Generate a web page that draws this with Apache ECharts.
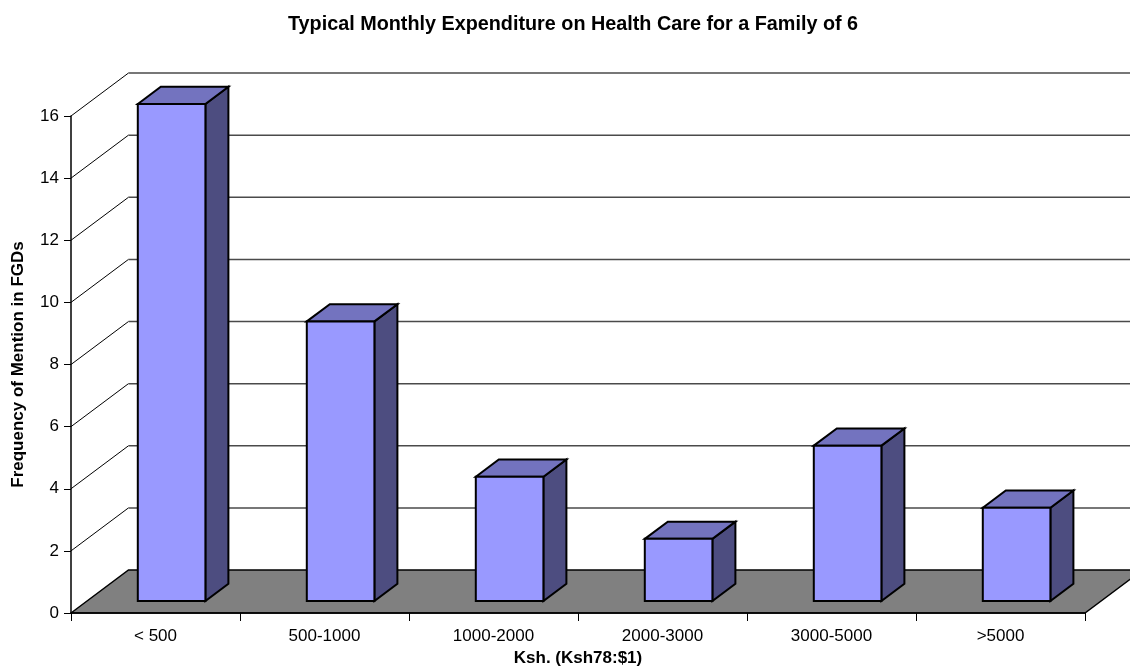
<!DOCTYPE html>
<html>
<head>
<meta charset="utf-8">
<title>Typical Monthly Expenditure on Health Care for a Family of 6</title>
<script src="https://cdn.jsdelivr.net/npm/echarts@6/dist/echarts.min.js"></script>
<style>
  html, body { margin: 0; padding: 0; background: #ffffff; }
  #chart { width: 1130px; height: 670px; }
</style>
</head>
<body>
<div id="chart"></div>
<script>
// Spending bands (Ksh per month) and how often each was mentioned in focus groups
const categories = ['< 500', '500-1000', '1000-2000', '2000-3000', '3000-5000', '>5000'];
const mentions = [16, 9, 4, 2, 5, 3];
const yTicks = [0, 2, 4, 6, 8, 10, 12, 14, 16];

const FONT = '"Liberation Sans", Arial, Helvetica, sans-serif';

// Oblique projection of the depth axis: full depth of the plot box in pixels
const DEPTH_X = 57.5;
const DEPTH_Y = -43;
// Bars sit partway into the depth, and take up a slice of it
const BAR_FRONT = 0.28;
const BAR_DEPTH = 0.4;
const BAR_WIDTH = 0.4; // fraction of a category band

const chart = echarts.init(document.getElementById('chart'), null, { renderer: 'canvas' });

// Side-wall diagonals, back-wall gridlines and the grey floor
function renderWalls(params, api) {
  const v = api.value(1);
  const cs = params.coordSys;
  const x0 = cs.x;
  const x1 = cs.x + cs.width;
  const y = api.coord([0, v])[1];
  const children = [];
  if (v === 0) {
    children.push({
      type: 'polygon',
      shape: { points: [[x0, y], [x0 + DEPTH_X, y + DEPTH_Y], [x1 + DEPTH_X, y + DEPTH_Y], [x1, y]] },
      style: { fill: '#808080', stroke: '#000', lineWidth: 1.5 }
    });
  } else {
    children.push({
      type: 'line',
      shape: { x1: x0, y1: y, x2: x0 + DEPTH_X, y2: y + DEPTH_Y },
      style: { stroke: '#000', lineWidth: 1 }
    });
    children.push({
      type: 'line',
      shape: { x1: x0 + DEPTH_X, y1: y + DEPTH_Y, x2: x1 + DEPTH_X, y2: y + DEPTH_Y },
      style: { stroke: '#4a4a4a', lineWidth: 1.5 }
    });
  }
  return { type: 'group', children: children };
}

// Extruded 3D column: front, top and right-hand side faces
function renderBar(params, api) {
  const i = api.value(0);
  const v = api.value(1);
  const top = api.coord([i, v]);
  const base = api.coord([i, 0]);
  const bw = api.size([1, 0])[0] * BAR_WIDTH;
  const fx = BAR_FRONT * DEPTH_X, fy = BAR_FRONT * DEPTH_Y;
  const dx = BAR_DEPTH * DEPTH_X, dy = BAR_DEPTH * DEPTH_Y;
  const l = top[0] - bw / 2 + fx;
  const r = top[0] + bw / 2 + fx;
  const t = top[1] + fy;
  const b = base[1] + fy;
  const stroke = { stroke: '#000', lineWidth: 2, lineJoin: 'miter' };
  return {
    type: 'group',
    children: [
      {
        type: 'polygon',
        shape: { points: [[r, t], [r + dx, t + dy], [r + dx, b + dy], [r, b]] },
        style: Object.assign({ fill: '#4d4d80' }, stroke)
      },
      {
        type: 'polygon',
        shape: { points: [[l, t], [l + dx, t + dy], [r + dx, t + dy], [r, t]] },
        style: Object.assign({ fill: '#7373bf' }, stroke)
      },
      {
        type: 'rect',
        shape: { x: l, y: t, width: r - l, height: b - t },
        style: Object.assign({ fill: '#9999ff' }, stroke)
      }
    ]
  };
}

const option = {
  backgroundColor: '#ffffff',
  animation: false,
  title: {
    text: 'Typical Monthly Expenditure on Health Care for a Family of 6',
    left: 288,
    top: 15,
    padding: 0,
    textStyle: { fontFamily: FONT, fontSize: 19.8, fontWeight: 'bold', color: '#000' }
  },
  grid: {
    left: 71, right: 45, top: 116, bottom: 57,
    containLabel: false,
    outerBoundsMode: 'none'
  },
  xAxis: {
    type: 'category',
    data: categories,
    z: 10,
    name: 'Ksh. (Ksh78:$1)',
    nameLocation: 'middle',
    nameGap: 33,
    nameTextStyle: { fontFamily: FONT, fontSize: 17, fontWeight: 'bold', color: '#000' },
    axisLine: { show: true, lineStyle: { color: '#000', width: 1.5 } },
    axisTick: { show: true, length: 8, lineStyle: { color: '#000', width: 1 } },
    axisLabel: { fontFamily: FONT, fontSize: 17, color: '#000', margin: 15 },
    splitLine: { show: false }
  },
  yAxis: {
    type: 'value',
    min: 0,
    max: 16,
    interval: 2,
    z: 10,
    name: 'Frequency of Mention in FGDs',
    nameLocation: 'middle',
    nameGap: 44,
    nameTextStyle: { fontFamily: FONT, fontSize: 17, fontWeight: 'bold', color: '#000' },
    axisLine: { show: true, lineStyle: { color: '#000', width: 1.5 } },
    axisTick: { show: true, length: 7, lineStyle: { color: '#000', width: 1 } },
    axisLabel: { fontFamily: FONT, fontSize: 17, color: '#000', margin: 12 },
    splitLine: { show: false }
  },
  series: [
    {
      type: 'custom',
      name: 'walls',
      z: 1,
      silent: true,
      renderItem: renderWalls,
      data: yTicks.map(function (t) { return [0, t]; })
    },
    {
      type: 'custom',
      name: 'Frequency',
      z: 5,
      renderItem: renderBar,
      data: mentions.map(function (m, i) { return [i, m]; })
    }
  ]
};

chart.setOption(option);
</script>
</body>
</html>
